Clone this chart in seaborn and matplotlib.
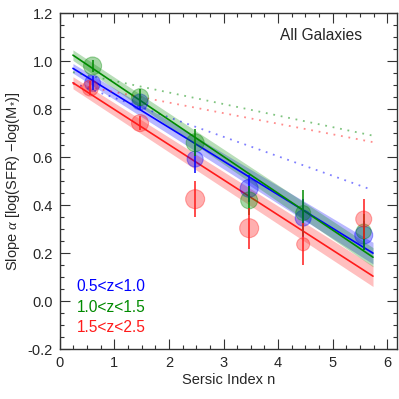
import numpy as np
import pandas as pd
import seaborn as sns
import matplotlib.pyplot as plt
from matplotlib.ticker import MultipleLocator

# datos
# ----------------------------------------
series = ["0.5<z<1.0", "1.0<z<1.5", "1.5<z<2.5"]
colores = {"0.5<z<1.0": "#0000ff", "1.0<z<1.5": "#008a00", "1.5<z<2.5": "#ff1a1a"}

n_azul = [0.60, 1.47, 2.48, 3.47, 4.46, 5.57]
alfa_azul = [0.908, 0.830, 0.592, 0.470, 0.346, 0.275]
err_azul = [0.030, 0.035, 0.060, 0.055, 0.080, 0.060]
tam_azul = [16, 16, 16, 18, 16, 18]

n_verde = [0.60, 1.47, 2.48, 3.47, 4.46, 5.57]
alfa_verde = [0.980, 0.850, 0.660, 0.420, 0.367, 0.290]
err_verde = [0.025, 0.035, 0.057, 0.060, 0.096, 0.075]
tam_verde = [18, 17, 18, 17, 15, 15]

n_rojo = [0.56, 1.47, 2.48, 3.47, 4.46, 5.57]
alfa_rojo = [0.888, 0.742, 0.425, 0.304, 0.237, 0.342]
err_rojo = [0.030, 0.030, 0.075, 0.085, 0.087, 0.083]
tam_rojo = [16, 17, 19, 19, 13, 16]

# ajustes lineales (extremos) y su banda de confianza
n_ajuste = [0.24, 5.74]
ajuste_azul = [0.970, 0.200]
banda_azul = [0.020, 0.045]
ajuste_verde = [1.025, 0.183]
banda_verde = [0.022, 0.040]
ajuste_rojo = [0.910, 0.104]
banda_rojo = [0.025, 0.043]

# lineas punteadas
n_punteo = [0.24, 5.73]
punteo_azul = [0.909, 0.463]
punteo_verde = [0.954, 0.690]
punteo_rojo = [0.905, 0.663]

df = pd.DataFrame({
    "n": n_azul + n_verde + n_rojo,
    "alfa": alfa_azul + alfa_verde + alfa_rojo,
    "err": err_azul + err_verde + err_rojo,
    "tam": tam_azul + tam_verde + tam_rojo,
    "z": [series[0]] * 6 + [series[1]] * 6 + [series[2]] * 6,
})
ajustes = {series[0]: (ajuste_azul, banda_azul),
           series[1]: (ajuste_verde, banda_verde),
           series[2]: (ajuste_rojo, banda_rojo)}
punteos = {series[0]: punteo_azul, series[1]: punteo_verde, series[2]: punteo_rojo}

sns.set_style("ticks")
plt.rcParams['font.family'] = ['Liberation Sans', 'DejaVu Sans']
plt.rcParams['mathtext.fontset'] = 'custom'
plt.rcParams['mathtext.rm'] = 'Liberation Sans'
plt.rcParams['mathtext.it'] = 'Liberation Serif:italic'

fig = plt.figure(figsize=(3.99, 3.99), dpi=100)
ax = fig.add_axes([0.150, 0.125, 0.845, 0.842])

for z in series:
    c = colores[z]
    linea, banda = ajustes[z]
    x = np.array(n_ajuste)
    y = np.array(linea)
    b = np.array(banda)
    ax.fill_between(x, y - b, y + b, color=c, alpha=0.28, linewidth=0)
    sns.lineplot(x=x, y=y, color=c, linewidth=1.2, ax=ax)
    sns.lineplot(x=n_punteo, y=punteos[z], color=c, alpha=0.5, linewidth=1.3,
                 linestyle=(0, (1, 3.2)), ax=ax)

for z in series:
    d = df[df["z"] == z]
    c = colores[z]
    s = (np.array(d["tam"]) * 0.72) ** 2
    sns.scatterplot(x=d["n"].values, y=d["alfa"].values, s=s, color=c, alpha=0.35,
                    edgecolor=c, linewidth=0.8, ax=ax, legend=False, zorder=3)
    ax.errorbar(d["n"], d["alfa"], yerr=d["err"], fmt="none", ecolor=c,
                elinewidth=1.1, capsize=0, zorder=4)

ax.set_xlim(0, 6.18)
ax.set_ylim(-0.2, 1.2)
ax.xaxis.set_major_locator(MultipleLocator(1))
ax.xaxis.set_minor_locator(MultipleLocator(0.25))
ax.yaxis.set_major_locator(MultipleLocator(0.2))
ax.yaxis.set_minor_locator(MultipleLocator(0.05))
ax.set_yticks(np.arange(-0.2, 1.21, 0.2))
ax.set_yticklabels(["%.1f" % v for v in np.arange(-0.2, 1.21, 0.2)])
ax.tick_params(which="both", direction="in", top=True, right=True,
               labelsize=10.5, pad=5, color="#333333")
ax.tick_params(which="major", length=7, width=0.8)
ax.tick_params(which="minor", length=3, width=0.8)
for sp in ax.spines.values():
    sp.set_linewidth(1.0)
    sp.set_color("#333333")

ax.set_xlabel("Sersic Index n", fontsize=10.5, labelpad=2)
ax.set_ylabel(r"Slope $\alpha$ [log(SFR) $-$log(M$_{*}$)]", fontsize=10.5, labelpad=4)

ax.text(0.896, 0.935, "All Galaxies", transform=ax.transAxes, ha="right",
        va="center", fontsize=11.2)
for i, z in enumerate(series):
    ax.text(0.05, 0.185 - 0.06 * i, z, transform=ax.transAxes, ha="left",
            va="center", fontsize=11.2, color=colores[z])

fig.savefig("out.png", dpi=100)
